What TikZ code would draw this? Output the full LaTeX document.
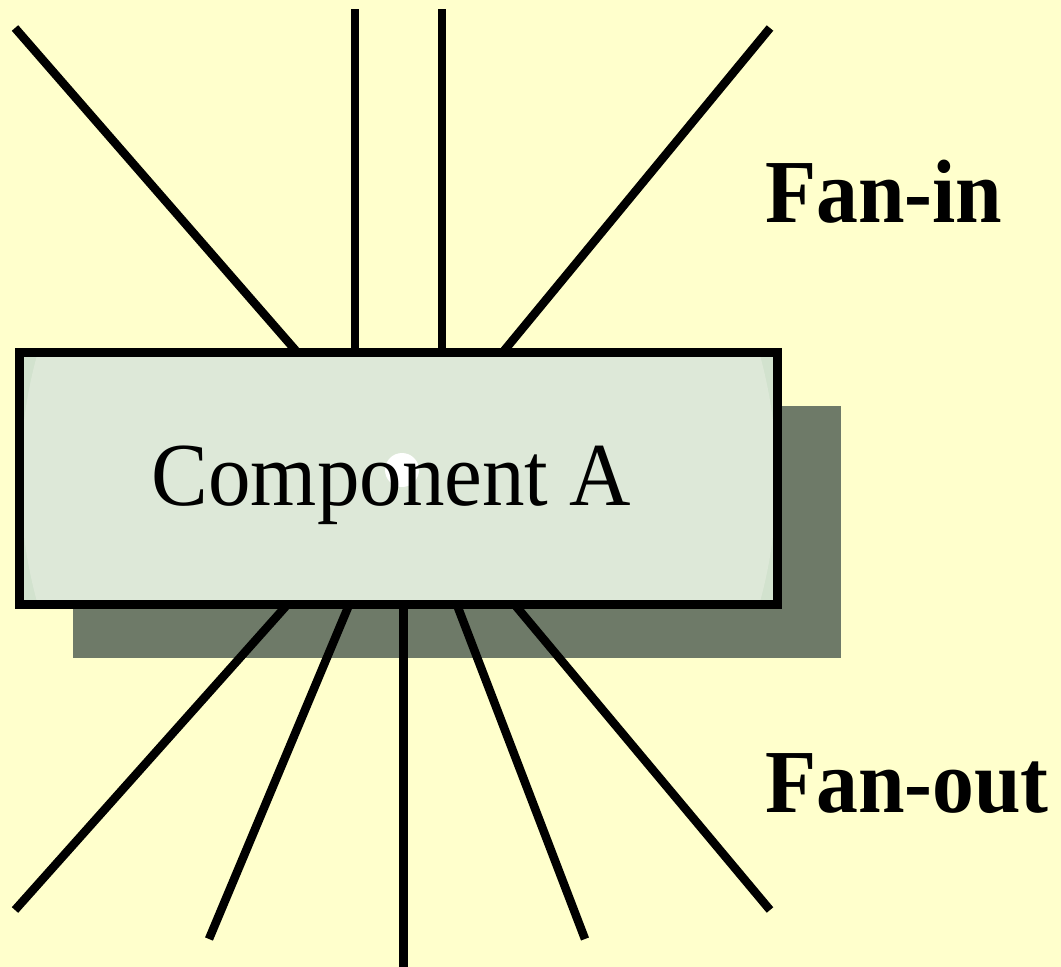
\documentclass[tikz,border=0pt]{standalone}
\usepackage{fontspec}
\setmainfont{Liberation Serif}
\definecolor{bgyellow}{HTML}{FFFFCC}
\definecolor{shadowgreen}{HTML}{6E7A68}
\definecolor{boxfill}{HTML}{DDE8D8}
\definecolor{boxedge}{HTML}{D2E2CE}
\begin{document}
\begin{tikzpicture}[x=1pt,y=-1pt,
  wire/.style={line width=8.5pt, line cap=butt},
  compbox/.style={draw=black, line width=9pt, minimum width=758pt, minimum height=252pt, inner sep=0pt},
  label/.style={font=\fontsize{90}{90}\selectfont\bfseries, inner sep=0pt, anchor=base west}]
\fill[bgyellow] (0,0) rectangle (1061,967);
\useasboundingbox (0,0) rectangle (1061,967);
\fill[shadowgreen] (73,406) rectangle (841,658);
% free ends
\coordinate (i1) at (15,28);
\coordinate (i2) at (355,9);
\coordinate (i3) at (442,9);
\coordinate (i4) at (770,28);
\coordinate (o1) at (15,910);
\coordinate (o2) at (209,939);
\coordinate (o3) at (403.5,967);
\coordinate (o4) at (585,939);
\coordinate (o5) at (770,910);
% attach points
\coordinate (a1) at (297,352);
\coordinate (a2) at (355,352);
\coordinate (a3) at (442,352);
\coordinate (a4) at (503,352);
\coordinate (b1) at (287,605);
\coordinate (b2) at (349,605);
\coordinate (b3) at (403.5,605);
\coordinate (b4) at (457,605);
\coordinate (b5) at (515,605);
\foreach \f/\t in {i1/a1,i2/a2,i3/a3,i4/a4,o1/b1,o2/b2,o3/b3,o4/b4,o5/b5}
  \draw[wire] (\f) -- (\t);
% box fill with subtle edge shading
\fill[boxedge] (19.5,352.5) rectangle (777.5,604.5);
\begin{scope}
  \clip (19.5,352.5) rectangle (777.5,604.5);
  \fill[boxfill] (398.5,478.5) ellipse [x radius=378, y radius=420];
\end{scope}
\node[compbox] (box) at (398.5,478.5) {};
\fill[white] (402,470) circle (17);
\node[font=\fontsize{90}{90}\selectfont, inner sep=0pt, anchor=base] (comp) at (391.5,505) {\scalebox{0.945}[1]{Component A}};
\node[label] (fanin) at (765,222) {\scalebox{0.93}[1]{Fan-in}};
\node[label] (fanout) at (765,812) {\scalebox{0.93}[1]{Fan-out}};
\end{tikzpicture}
\end{document}
